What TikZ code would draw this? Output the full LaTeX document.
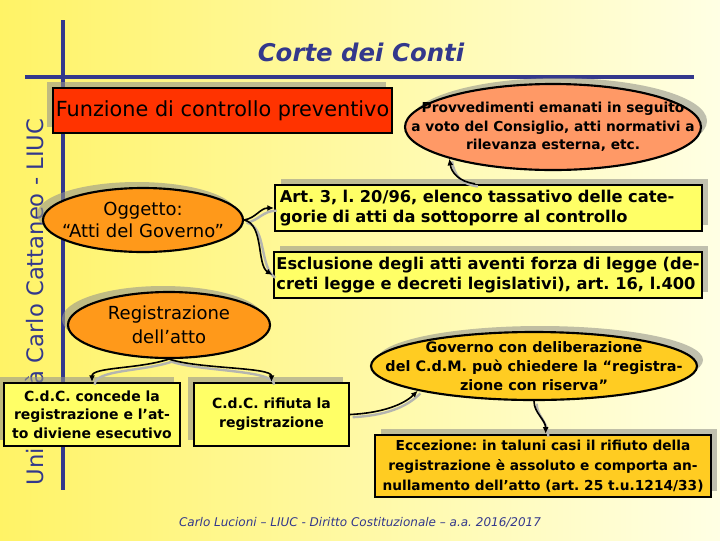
\documentclass[tikz,border=0pt]{standalone}
\usepackage{fontspec}
\setmainfont{DejaVu Sans}
\usetikzlibrary{shapes.geometric,arrows.meta,shadows}
\frenchspacing

\definecolor{bgL}{RGB}{255,243,102}
\definecolor{bgR}{RGB}{255,255,228}
\definecolor{navy}{RGB}{51,56,140}
\definecolor{redbox}{RGB}{255,51,0}
\definecolor{salmon}{RGB}{255,153,102}
\definecolor{orangeov}{RGB}{255,153,26}
\definecolor{lemon}{RGB}{255,255,102}
\definecolor{gold}{RGB}{255,204,34}
\definecolor{shgray}{RGB}{150,150,140}

\tikzset{every picture/.style={line width=0.75pt},
  shUL/.style={general shadow={fill=shgray, fill opacity=0.6, shadow xshift=-4.5pt, shadow yshift=4.5pt}},
  shUR/.style={general shadow={fill=shgray, fill opacity=0.6, shadow xshift=4.5pt, shadow yshift=4.5pt}},
  box/.style={draw=black, line width=1.8pt, rectangle, inner sep=2pt, align=center, font=\fontsize{10.5}{14}\selectfont\bfseries},
  oval/.style={draw=black, line width=1.6pt, ellipse, inner sep=0pt},
  ovaltext/.style={inner sep=0pt, align=center},
  conn/.style={-{Latex[length=5pt,width=4.5pt]}, line width=1.2pt, preaction={draw=shgray!70, -, line width=1.8pt, transform canvas={shift={(2pt,-2pt)}}}}
}

\begin{document}
\begin{tikzpicture}[x=0.75pt,y=0.75pt,yscale=-1,xscale=1]
%Background
\shade[left color=bgL, right color=bgR] (0,0) rectangle (720,540);
\useasboundingbox (0,0) rectangle (720,540);

% Text Node (side label)
\node[rotate=90, text=navy, font=\fontsize{17}{20}\selectfont] (univ) at (35,302) {Università Carlo Cattaneo - LIUC};
%Straight Lines (frame)
\draw[navy, line width=3pt] (63,20) -- (63,490);
\draw[navy, line width=3pt] (25,77) -- (694,77);
% Text Node (title)
\node[text=navy, font=\fontsize{18.3}{22}\selectfont\bfseries\itshape] (title) at (361,52) {Corte dei Conti};

%Shape: Rectangle
\node[box, shUL, fill=redbox, minimum width=254pt, minimum height=34pt, font=\fontsize{15.6}{18}\selectfont] (funz) at (222.5,110.5) {Funzione di controllo preventivo};
%Shape: Ellipse
\node[oval, shUR, fill=salmon, minimum width=222pt, minimum height=64.5pt] (prov) at (553,127) {};
\node[ovaltext, font=\fontsize{10.3}{14}\selectfont\bfseries] (provtxt) at (prov) {Provvedimenti emanati in seguito\\a voto del Consiglio, atti normativi a\\rilevanza esterna, etc.};
%Shape: Ellipse
\node[oval, shUL, fill=orangeov, minimum width=150pt, minimum height=48pt] (ogg) at (143,220) {};
\node[ovaltext, font=\fontsize{13.5}{17}\selectfont] (oggtxt) at (ogg) {Oggetto:\\“Atti del Governo”};
%Shape: Rectangle
\node[box, shUR, fill=lemon, minimum width=320pt, minimum height=34.5pt, text width=313pt, align=left, font=\fontsize{12.2}{15}\selectfont\bfseries] (art) at (488.5,208) {Art. 3, l. 20/96, elenco tassativo delle cate-\\gorie di atti da sottoporre al controllo};
%Shape: Rectangle
\node[box, shUR, fill=lemon, minimum width=320pt, minimum height=34.5pt, align=left, font=\fontsize{12.2}{15}\selectfont\bfseries] (escl) at (488,275) {Esclusione degli atti aventi forza di legge (de-\\creti legge e decreti legislativi), art. 16, l.400};
%Shape: Ellipse
\node[oval, shUL, fill=orangeov, minimum width=151.5pt, minimum height=49.5pt] (reg) at (169,325) {};
\node[ovaltext, font=\fontsize{13.5}{18}\selectfont] (regtxt) at (reg) {Registrazione\\dell’atto};
%Shape: Ellipse
\node[oval, shUR, fill=gold, minimum width=244.5pt, minimum height=51pt] (gov) at (534,366) {};
\node[ovaltext, font=\fontsize{10.8}{14}\selectfont\bfseries] (govtxt) at (gov) {Governo con deliberazione\\del C.d.M. può chiedere la “registra-\\zione con riserva”};
%Shape: Rectangle
\node[box, shUL, fill=lemon, minimum width=132pt, minimum height=47pt] (conc) at (92,414.5) {C.d.C. concede la\\registrazione e l'at-\\to diviene esecutivo};
%Shape: Rectangle
\node[box, shUL, fill=lemon, minimum width=116pt, minimum height=47pt] (rif) at (271.5,414.5) {C.d.C. rifiuta la\\registrazione};
%Shape: Rectangle
\node[box, shUR, fill=gold, minimum width=252pt, minimum height=46.5pt, font=\fontsize{10.3}{15}\selectfont\bfseries] (ecc) at (543,466) {Eccezione: in taluni casi il rifiuto della\\registrazione è assoluto e comporta an-\\nullamento dell'atto (art. 25 t.u.1214/33)};

%Curves
\draw[conn] (ogg.east) .. controls +(12,-2) and +(-14,0) .. (art.west);
\draw[conn] (ogg.east) .. controls +(20,4) and +(-16,-10) .. (escl.west);
\draw[conn] ([xshift=-10pt]art.north) .. controls +(-16,-2) and +(2,14) .. (prov.197);
\draw[conn] (reg.south) .. controls +(-30,10) and +(0,-15) .. (conc.north);
\draw[conn] (reg.south) .. controls +(30,10) and +(0,-15) .. (rif.north);
\draw[conn] (rif.east) .. controls +(40,-2) and +(-10,10) .. (gov.192);
\draw[conn] (gov.south) .. controls +(0,12) and +(0,-14) .. ([xshift=2pt]ecc.north);

% Text Node (footer)
\node[text=navy, font=\fontsize{9}{11}\selectfont\itshape] (foot) at (360,522) {Carlo Lucioni – LIUC - Diritto Costituzionale – a.a. 2016/2017};
\end{tikzpicture}
\end{document}
